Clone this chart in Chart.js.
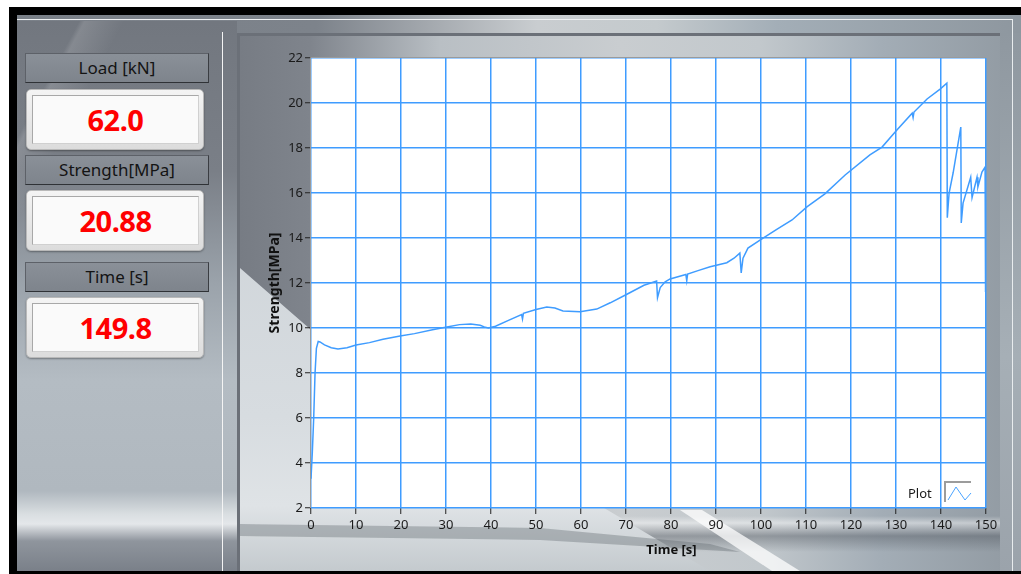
<!DOCTYPE html>
<html>
<head>
<meta charset="utf-8">
<script src="https://cdn.jsdelivr.net/npm/chart.js@4.4.1/dist/chart.umd.min.js"></script>
<style>
  html, body { margin: 0; padding: 0; background: #fff; }
  body { width: 1021px; height: 574px; position: relative; overflow: hidden; font-family: "Noto Sans", "DejaVu Sans", sans-serif; }
  #win { position: absolute; left: 9px; top: 7px; right: 0; bottom: 0; background: #000; }
  #bg {
    position: absolute; left: 17px; top: 15px; right: 0; bottom: 3px;
    background: linear-gradient(90deg, #7a8088 0, #7d838b 300px, #c9cdd0 520px, #c4cacd 640px, #a3aeb7 760px, #8e979f 1000px);
  }
  #topline { position: absolute; left: 17px; top: 19px; width: 996px; height: 1px; background: #eef0f2; }
  #leftpanel {
    position: absolute; left: 17px; top: 21px; width: 220px; height: 550px;
    background:
      linear-gradient(118deg, rgba(255,255,255,0) 0, rgba(255,255,255,0) 55px, rgba(255,255,255,.13) 60px, rgba(255,255,255,0) 95px),
      linear-gradient(180deg, #72777f 0, #7a7f87 150px, #9aa2aa 260px, #b4bcc3 360px, #b0b8bf 470px, #d9dee1 493px, #e4e7ea 503px, #8f959d 520px, #7a8089 550px);
  }
  #vline { position: absolute; left: 222px; top: 32px; width: 1px; height: 539px; background: #f4f4f4; }
  #gpanel {
    position: absolute; left: 237px; top: 33px; width: 763px; height: 538px;
    border-left: 3px solid #6b7078; border-top: 3px solid #6b7078; box-sizing: border-box;
    background:
      linear-gradient(180deg, rgba(0,0,0,0) 0, rgba(0,0,0,0) 480px, rgba(255,255,255,.45) 487px, rgba(85,91,99,.45) 500px, rgba(0,0,0,0) 516px),
      linear-gradient(90deg, #777c84 0, #7f848c 70px, #b9bfc4 200px, #c9cdd0 380px, #c2c8cc 520px, #a3adb6 640px, #939ca4 763px);
  }
  /* fascia chiara diagonale a sinistra del grafico */
  #gsweep {
    position: absolute; left: 240px; top: 36px; width: 760px; height: 535px;
    background: linear-gradient(180deg, #c9cfd4 0, #d7dce0 380px, #dfe3e6 470px, #c4cace 535px);
    clip-path: polygon(0 232px, 85px 306px, 470px 535px, 0 535px);
  }
  #gstreak {
    position: absolute; left: 240px; top: 36px; width: 760px; height: 535px;
    background: rgba(255,255,255,.75);
    clip-path: polygon(440px 474px, 462px 474px, 560px 535px, 532px 535px);
  }
  #gband {
    position: absolute; left: 240px; top: 36px; width: 760px; height: 535px;
    background: rgba(90,96,104,.35);
    clip-path: polygon(0 488px, 300px 492px, 470px 508px, 500px 516px, 300px 504px, 0 500px);
  }
  #rstrip { position: absolute; left: 1000px; top: 33px; width: 21px; height: 538px; background: linear-gradient(180deg, #8f98a0, #a6afb6 60%, #9ba3ab); }
  #rline { position: absolute; left: 1012px; top: 19px; width: 1px; height: 552px; background: #e8ecee; }
  .lbl {
    position: absolute; left: 25px; width: 184px; height: 30px; box-sizing: border-box;
    background: linear-gradient(180deg, #8a9098, #7e848c);
    border: 1px solid #5d6168; border-right-color: #3a3d42; border-bottom-color: #2f3236;
    color: #141414; font-size: 17px; line-height: 28px; text-align: center;
  }
  .val {
    position: absolute; left: 26px; width: 178px; height: 61px; box-sizing: border-box;
    background: linear-gradient(180deg, #f4f4f4, #dcdcdc); border-radius: 5px;
    border: 1px solid #b9b9b9; box-shadow: 0 1px 2px rgba(0,0,0,.35);
  }
  .val div {
    position: absolute; left: 5px; top: 5px; right: 4px; bottom: 5px;
    background: #fafafa; border: 1px solid #a8a8a8; border-right-color: #d0d0d0; border-bottom-color: #d0d0d0;
    color: #ff0000; font-weight: bold; font-size: 29px; line-height: 47px; text-align: center; letter-spacing: -0.5px;
  }
  #chartbox { position: absolute; left: 230px; top: 40px; width: 780px; height: 530px; }
  #legend { position: absolute; left: 908px; top: 481px; height: 22px; font-size: 13px; color: #1a1a1a; }
  #legend span { position: absolute; left: 0; top: 3px; }
  #legend svg { position: absolute; left: 36px; top: 0; }
</style>
</head>
<body>
<div id="win"></div>
<div id="bg"></div>
<div id="leftpanel"></div>
<div id="topline"></div>
<div id="vline"></div>
<div id="gpanel"></div>
<div id="gsweep"></div>
<div id="gband"></div>
<div id="gstreak"></div>
<div id="rstrip"></div>
<div id="rline"></div>

<div class="lbl" style="top:53px">Load [kN]</div>
<div class="val" style="top:89px"><div id="v-load"></div></div>
<div class="lbl" style="top:155px">Strength[MPa]</div>
<div class="val" style="top:190px"><div id="v-strength"></div></div>
<div class="lbl" style="top:262px">Time [s]</div>
<div class="val" style="top:297px"><div id="v-time"></div></div>

<div id="chartbox"><canvas id="chart-strength" width="780" height="530"></canvas></div>
<div id="legend"><span>Plot</span>
  <svg width="28" height="22"><path d="M1 21 V1 H27" stroke="#9c9c9c" stroke-width="2" fill="none"/><polyline points="4,19 12,6 21,19 27,12" stroke="#4aa3ff" stroke-width="1" fill="none"/></svg>
</div>

<script>
// ═══════════════════════════════════════════════════════
//  DATI PROVA
// ═══════════════════════════════════════════════════════
const timeS = [
  0, 0.3, 0.6, 0.9, 1.2, 1.6, 2.0, 3.0, 4.5, 6.0, 8.0, 10.0, 13.0, 16.0, 19.8, 23.0, 27.0, 30.2,
  33.0, 35.5, 37.6, 38.5, 39.4, 41.0, 44.0, 46.8, 47.0, 47.2, 50.0, 52.4, 54.2, 56.0, 59.8, 63.5,
  66.5, 70.2, 74.0, 76.8, 77.0, 77.6, 78.7, 79.8, 83.3, 83.5, 83.7, 86.0, 88.7, 92.4, 94.0, 95.3,
  95.6, 96.0, 97.1, 100.2, 103.5, 106.9, 110.2, 114.2, 118.7, 124.2, 126.9, 130.2, 133.6, 133.8,
  134.0, 136.9, 139.8, 141.3, 141.4, 141.8, 142.7, 144.4, 144.5, 144.9, 146.6, 146.9, 148.0, 148.2,
  149.1, 149.8, 149.9
];
const strengthMPa = [
  3.3, 4.5, 6.0, 8.0, 9.1, 9.4, 9.38, 9.25, 9.12, 9.07, 9.12, 9.24, 9.35, 9.5, 9.64, 9.75, 9.92, 10.04,
  10.15, 10.18, 10.12, 10.05, 10.0, 10.08, 10.35, 10.6, 10.4, 10.65, 10.82, 10.93, 10.89, 10.76, 10.72, 10.84,
  11.12, 11.5, 11.9, 12.09, 11.35, 11.8, 12.05, 12.18, 12.38, 12.1, 12.4, 12.55, 12.72, 12.9, 13.1, 13.33,
  12.45, 13.1, 13.55, 13.96, 14.38, 14.8, 15.38, 15.96, 16.8, 17.69, 18.04, 18.8, 19.55, 19.35,
  19.6, 20.18, 20.62, 20.88, 14.9, 16.0, 16.9, 18.93, 14.67, 15.55, 16.7, 15.8, 16.7, 16.27,
  16.93, 17.15, 11.6
];
const xTicks = [0, 10, 20, 30, 40, 50, 60, 70, 80, 90, 100, 110, 120, 130, 140, 150];
const yTicks = [2, 4, 6, 8, 10, 12, 14, 16, 18, 20, 22];

const caricoKN = 62.0;
const strengthMax = Math.max(...strengthMPa);
const tempoFinale = 149.8;

document.getElementById('v-load').textContent = caricoKN.toFixed(1);
document.getElementById('v-strength').textContent = strengthMax.toFixed(2);
document.getElementById('v-time').textContent = tempoFinale.toFixed(1);

// ═══════════════════════════════════════════════════════
//  GRAFICO
// ═══════════════════════════════════════════════════════
const BLU = '#3f9cff';
const FONT = { family: '"Noto Sans", "DejaVu Sans", sans-serif', size: 13 };

// fondo bianco + bordo dell'area dati, titolo asse X
const areaPlugin = {
  id: 'areaPlugin',
  beforeDraw(chart) {
    const { ctx, chartArea: a } = chart;
    ctx.save();
    ctx.fillStyle = '#ffffff';
    ctx.fillRect(a.left, a.top, a.right - a.left, a.bottom - a.top);
    ctx.restore();
  },
  afterDraw(chart) {
    const { ctx, chartArea: a } = chart;
    ctx.save();
    ctx.strokeStyle = '#9a9a9a';
    ctx.lineWidth = 1;
    ctx.beginPath();
    ctx.moveTo(a.left - 0.5, a.bottom);
    ctx.lineTo(a.left - 0.5, a.top - 0.5);
    ctx.lineTo(a.right, a.top - 0.5);
    ctx.stroke();
    ctx.fillStyle = '#111';
    ctx.font = 'bold 13px ' + FONT.family;
    ctx.textAlign = 'center';
    ctx.textBaseline = 'middle';
    ctx.fillText('Time [s]', (a.left + a.right) / 2 + 23, chart.height - 20);
    ctx.restore();
  }
};

new Chart(document.getElementById('chart-strength'), {
  type: 'line',
  data: {
    datasets: [{
      label: 'Plot',
      data: timeS.map((t, i) => ({ x: t, y: strengthMPa[i] })),
      borderColor: BLU, borderWidth: 1.5, pointRadius: 0, tension: 0, fill: false
    }]
  },
  options: {
    responsive: false, animation: false, maintainAspectRatio: false,
    layout: { padding: { left: 0, top: 18, right: 24, bottom: 0 } },
    plugins: { legend: { display: false }, tooltip: { enabled: false } },
    scales: {
      x: {
        type: 'linear', min: xTicks[0], max: xTicks[xTicks.length - 1],
        afterFit: s => { s.height = 62; },
        afterBuildTicks: s => { s.ticks = xTicks.map(v => ({ value: v })); },
        grid: { color: BLU, lineWidth: 1.5, tickColor: '#222', tickLength: 6, tickWidth: 1 },
        border: { display: false },
        ticks: { color: '#1a1a1a', font: FONT, padding: 3, maxRotation: 0 }
      },
      y: {
        type: 'linear', min: yTicks[0], max: yTicks[yTicks.length - 1],
        afterFit: s => { s.width = 81; },
        afterBuildTicks: s => { s.ticks = yTicks.map(v => ({ value: v })); },
        grid: { color: BLU, lineWidth: 1.5, tickColor: '#222', tickLength: 6, tickWidth: 1 },
        border: { display: false },
        ticks: { color: '#1a1a1a', font: FONT, padding: 2 },
        title: { display: true, text: 'Strength[MPa]', color: '#111', font: { family: FONT.family, size: 14, weight: 'bold' }, padding: { top: 37, bottom: 0 } }
      }
    }
  },
  plugins: [areaPlugin]
});
</script>
</body>
</html>
